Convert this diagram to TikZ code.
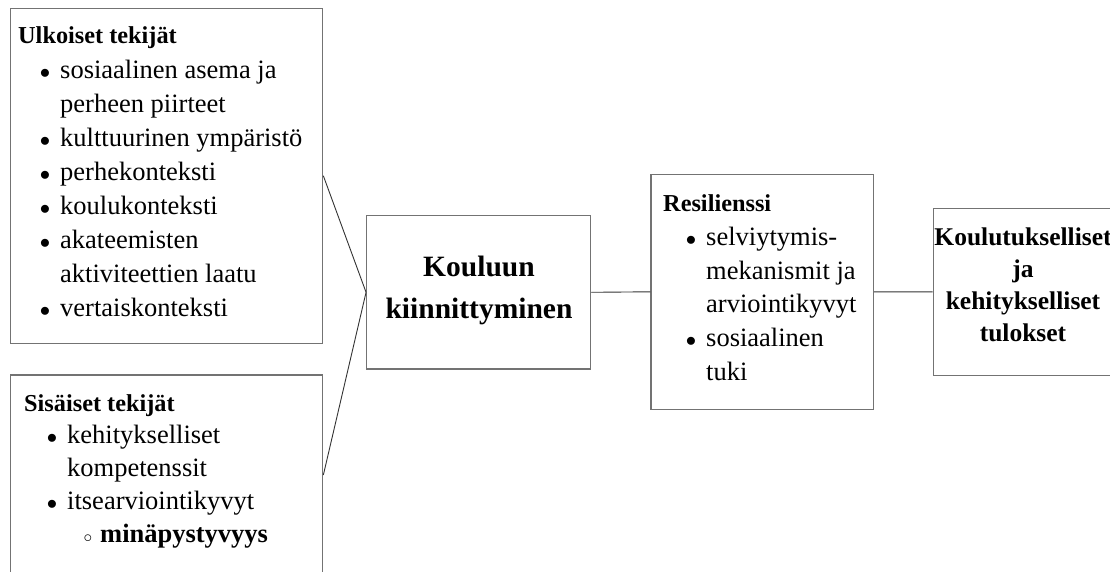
\documentclass[tikz,border=0pt]{standalone}
\usepackage{fontspec}
\setmainfont{Liberation Serif}
\newcommand{\blt}{\llap{{\fontsize{21}{21}\selectfont$\bullet$}\hspace{10pt}}}
\newcommand{\cblt}{\llap{{\fontsize{19}{19}\selectfont$\circ$}\hspace{8pt}}}
\tikzset{
  box/.style={rectangle, draw=black!55, line width=1.3pt, inner sep=0pt},
  conn/.style={draw=black!80, line width=0.9pt},
  body/.style={anchor=base west, inner sep=0pt, font=\fontsize{26.5}{30}\selectfont},
  head/.style={anchor=base west, inner sep=0pt, font=\fontsize{24.3}{28}\selectfont\bfseries},
  big/.style={anchor=base, inner sep=0pt, font=\fontsize{29.5}{34}\selectfont\bfseries},
  outc/.style={anchor=base, inner sep=0pt, font=\fontsize{25.5}{30}\selectfont\bfseries},
}
\begin{document}
\begin{tikzpicture}[x=1pt,y=-1pt]
\useasboundingbox (0,0) rectangle (1110,572);
\clip (0,0) rectangle (1110,572);
% boxes
\node[box, minimum width=312pt, minimum height=335pt] (ext) at (166.7,175.8) {};
\node[box, minimum width=312pt, minimum height=200pt] (int) at (166.7,475) {};
\node[box, minimum width=224pt, minimum height=153.3pt] (kk) at (478.7,292.3) {};
\node[box, minimum width=222.3pt, minimum height=235pt] (res) at (762.2,291.8) {};
\node[box, minimum width=186.7pt, minimum height=167.2pt] (out) at (1026.7,291.9) {};
% connectors
\draw[conn] (ext.east) -- (kk.west);
\draw[conn] (int.east) -- (kk.west);
\draw[conn] (kk.east) -- (res.west);
\draw[conn] (res.east) -- (out.west);
% external factors
\node[head] (e0) at (18,44) {Ulkoiset tekijät};
\node[body] (e1) at (60,78.1) {\blt sosiaalinen asema ja};
\node[body] (e2) at (60,112.2) {perheen piirteet};
\node[body] (e3) at (60,146.3) {\blt kulttuurinen ympäristö};
\node[body] (e4) at (60,180.4) {\blt perhekonteksti};
\node[body] (e5) at (60,214.5) {\blt koulukonteksti};
\node[body] (e6) at (60,248.6) {\blt akateemisten};
\node[body] (e7) at (60,282.7) {aktiviteettien laatu};
\node[body] (e8) at (60,316.8) {\blt vertaiskonteksti};
% internal factors
\node[head] (i0) at (24,411) {Sisäiset tekijät};
\node[body] (i1) at (67,443.5) {\blt kehitykselliset};
\node[body] (i2) at (67,476.5) {kompetenssit};
\node[body] (i3) at (67,509.5) {\blt itsearviointikyvyt};
\node[body, font=\fontsize{26.5}{30}\selectfont\bfseries] (i4) at (100,542) {\cblt minäpystyvyys};
% centre
\node[big] (k1) at (479,276.7) {Kouluun};
\node[big] (k2) at (479,318.3) {kiinnittyminen};
% resilience
\node[head] (r0) at (663,211.7) {Resilienssi};
\node[body] (r1) at (706,245.4) {\blt selviytymis-};
\node[body] (r2) at (706,279.1) {mekanismit ja};
\node[body] (r3) at (706,312.8) {arviointikyvyt};
\node[body] (r4) at (706,346.5) {\blt sosiaalinen};
\node[body] (r5) at (706,380.2) {tuki};
% outcomes
\node[outc] (o1) at (1023,245) {Koulutukselliset};
\node[outc] (o2) at (1023,277) {ja};
\node[outc] (o3) at (1023,309) {kehitykselliset};
\node[outc] (o4) at (1023,341) {tulokset};
\end{tikzpicture}
\end{document}
